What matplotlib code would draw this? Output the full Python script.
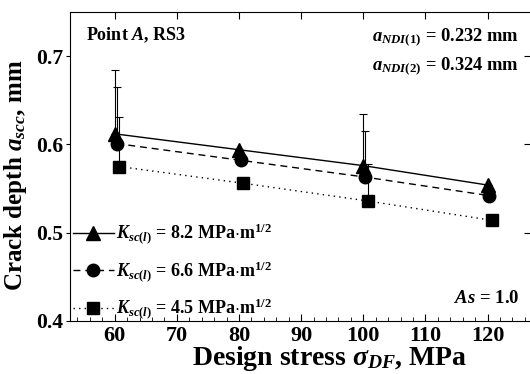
import numpy as np
import matplotlib
matplotlib.use("Agg")
import matplotlib.pyplot as plt
from matplotlib.ticker import MultipleLocator

plt.rcParams['font.family'] = ['Liberation Serif', 'DejaVu Serif']
plt.rcParams['font.weight'] = 'bold'
plt.rcParams['mathtext.fontset'] = 'custom'
plt.rcParams['mathtext.rm'] = 'Liberation Serif:bold'
plt.rcParams['mathtext.it'] = 'Liberation Serif:italic:bold'
plt.rcParams['mathtext.bf'] = 'Liberation Serif:bold'

# design stress, MPa
stress = np.array([60, 80, 100, 120])

# crack depth for each K_sc(l)
depth_82 = [0.612, 0.594, 0.576, 0.554]
depth_66 = [0.601, 0.582, 0.563, 0.542]
depth_45 = [0.575, 0.556, 0.536, 0.514]

# upper error bars (one sided)
err_82 = [0.072, 0.0, 0.059, 0.0]
err_66 = [0.064, 0.0, 0.052, 0.0]
err_45 = [0.056, 0.0, 0.042, 0.0]

labels = [r"$K_{sc(l)}$ = 8.2 MPa$\cdot$m$^{1/2}$",
          r"$K_{sc(l)}$ = 6.6 MPa$\cdot$m$^{1/2}$",
          r"$K_{sc(l)}$ = 4.5 MPa$\cdot$m$^{1/2}$"]

fig = plt.figure(figsize=(5.3, 3.74), dpi=100)
ax = fig.add_axes([70/530, 53/374, 461/530, 309/374])

series = [
    (depth_82, err_82, '^', '-', 0.0, 10),
    (depth_66, err_66, 'o', (0, (5, 3.5)), 0.3, 9),
    (depth_45, err_45, 's', (0, (1, 3)), 0.7, 9),
]
handles = []
for (d, e, mk, ls, dx, ms) in series:
    x = stress + dx
    zeros = np.zeros(len(e))
    ax.errorbar(x, d, yerr=[zeros, e], fmt='none', ecolor='black',
                elinewidth=0.8, capsize=3, capthick=0.8, zorder=2)
    h, = ax.plot(x, d, color='black', linestyle=ls, linewidth=1.0,
                 marker=mk, markersize=ms, zorder=3)
    handles.append(h)

ax.set_xlim(52.8, 127)
ax.set_ylim(0.4, 0.75)
ax.set_xticks([60, 70, 80, 90, 100, 110, 120])
ax.xaxis.set_minor_locator(MultipleLocator(2))
ax.set_yticks([0.4, 0.5, 0.6, 0.7])

ax.tick_params(axis='x', which='major', direction='in', top=True, length=5, labelsize=16)
ax.tick_params(axis='x', which='minor', direction='in', top=False, length=3)
ax.tick_params(axis='y', which='major', direction='out', length=3, pad=2, labelsize=15.5)
for lab in ax.get_xticklabels() + ax.get_yticklabels():
    lab.set_fontweight('bold')

ax2 = ax.secondary_yaxis('right')
ax2.set_yticks([0.5, 0.6, 0.7])
ax2.tick_params(direction='in', length=5, labelright=False)

ax.set_xlabel(r"Design stress $\sigma_{DF}$, MPa", fontsize=20, fontweight='bold')
ax.set_ylabel(r"Crack depth $a_{scc}$, mm", fontsize=18, fontweight='bold')
ax.xaxis.set_label_coords(0.564, -0.075)
ax.yaxis.set_label_coords(-0.088, 0.47)

ax.text(0.035, 0.955, r"Point $A$, RS3", transform=ax.transAxes, fontsize=13,
        fontweight='bold', va='top', ha='left')
ax.text(0.975, 0.955, r"$a_{NDI(1)}$ = 0.232 mm", transform=ax.transAxes, fontsize=13.3,
        fontweight='bold', va='top', ha='right')
ax.text(0.975, 0.86, r"$a_{NDI(2)}$ = 0.324 mm", transform=ax.transAxes, fontsize=13.3,
        fontweight='bold', va='top', ha='right')
ax.text(0.975, 0.045, r"$As$ = 1.0", transform=ax.transAxes, fontsize=13.5,
        fontweight='bold', va='bottom', ha='right')

ax.legend(handles, labels, loc='lower left', bbox_to_anchor=(-0.002, -0.013),
          frameon=False, fontsize=13, handlelength=2.3, handletextpad=0.1,
          labelspacing=0.75, borderpad=0.2, borderaxespad=0)

fig.savefig("out.png", dpi=100)
